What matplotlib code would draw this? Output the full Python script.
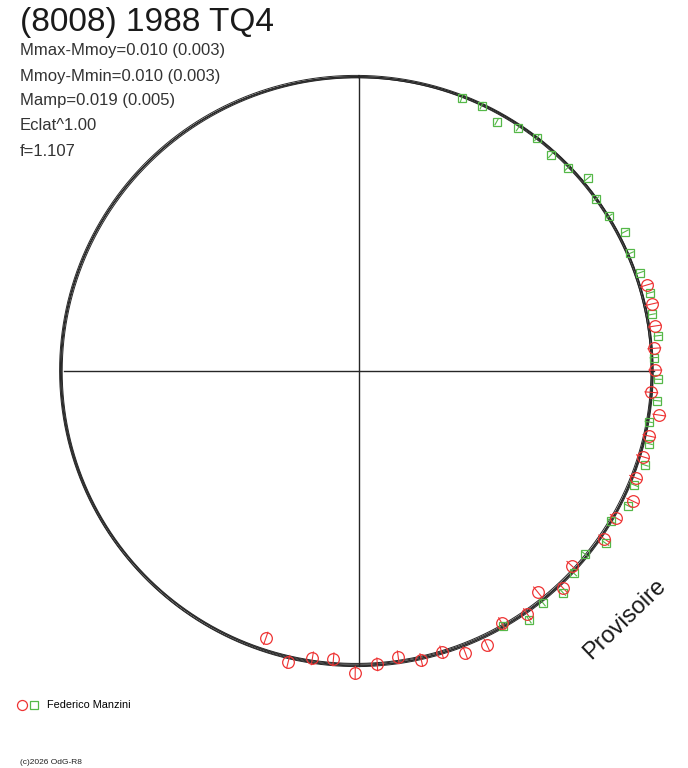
import numpy as np
import matplotlib
matplotlib.use("Agg")
import matplotlib.pyplot as plt
from matplotlib.lines import Line2D
from matplotlib.legend_handler import HandlerTuple

plt.rcParams['font.family'] = ['Liberation Sans', 'DejaVu Sans']

# ---------------- data ----------------
title = "(8008) 1988 TQ4"
stats_lines = ["Mmax-Mmoy=0.010 (0.003)", "Mmoy-Mmin=0.010 (0.003)",
               "Mamp=0.019 (0.005)", "Eclat^1.00", "f=1.107"]
observer = "Federico Manzini"

# green squares: phase and residual (mag, outward positive)
green_phase = [0.0573, 0.0689, 0.0803, 0.0923, 0.1037, 0.1156, 0.1271, 0.1386,
               0.1500, 0.1617, 0.1732, 0.1848, 0.1964, 0.2082, 0.2196, 0.2313,
               0.2428, 0.2544, 0.2658, 0.2777, 0.2891, 0.3006, 0.3125, 0.3239,
               0.3354, 0.3470, 0.3584, 0.3702, 0.3816, 0.3933, 0.4046, 0.4180]
green_resid = [-0.018, -0.0135, -0.051, -0.021, -0.0075, -0.029, -0.018, 0.0205,
               -0.012, -0.004, 0.0265, 0.0025, 0.0135, 0.033, 0.0155, 0.029,
               0.0, 0.019, 0.021, -0.004, 0.0185, 0.029, 0.015, 0.029,
               -0.0075, 0.0295, -0.020, 0.001, 0.0315, 0.0055, 0.0325, -0.0115]

# red circles
red_phase = [0.2038, 0.2142, 0.2260, 0.2378, 0.2495, 0.2616, 0.2732, 0.2851,
             0.2967, 0.3086, 0.3206, 0.3326, 0.3455, 0.3680, 0.3799, 0.3918,
             0.4036, 0.4180, 0.4305, 0.4426, 0.4545, 0.4662, 0.4783, 0.4901,
             0.5020, 0.5141, 0.5256, 0.5380, 0.5534]
red_resid = [0.0265, 0.0265, 0.0205, 0.006, 0.0065, -0.0095, 0.0425, 0.0125,
             0.007, 0.008, 0.040, 0.0045, 0.0095, -0.033, 0.0165, -0.054,
             0.003, -0.025, 0.0385, 0.032, -0.009, 0.003, -0.030, -0.0055,
             0.0335, -0.028, -0.0195, 0.021, -0.0595]

# fitted Fourier curves (bundle)
fit_c0 = [-0.007, -0.003, -0.001, 0.002, 0.006]
fit_a1 = [0.002, -0.002, 0.003, -0.001, 0.000]
fit_b1 = [-0.012, -0.013, -0.0125, -0.012, -0.013]
fit_a2 = [-0.004, -0.003, -0.005, -0.004, -0.003]
fit_b2 = [0.002, -0.002, 0.000, 0.001, -0.001]

# ---------------- geometry ----------------
R0 = 295.0      # radius of mean circle (plot units = px)
K = 200.0       # plot units per magnitude
err_red = 0.032
err_green = 0.018

RED = '#ee3333'
GREEN = '#55b848'
DARK = '#262626'


def polar_xy(phase, resid):
    th = 2 * np.pi * np.asarray(phase)
    r = R0 + K * np.asarray(resid)
    return r * np.sin(th), r * np.cos(th)


fig = plt.figure(figsize=(6.88, 7.68), dpi=100)
ax = fig.add_axes([0, 0, 1, 1])
ax.set_xlim(-359, 329)
ax.set_ylim(-397, 371)
ax.set_aspect('equal')
ax.axis('off')

# axes cross
ax.plot([-R0, R0], [0, 0], color=DARK, lw=1.0, zorder=1)
ax.plot([0, 0], [-R0, R0], color=DARK, lw=1.0, zorder=1)

# fitted curves
th = np.linspace(0, 2 * np.pi, 721)
for c0, a1, b1, a2, b2 in zip(fit_c0, fit_a1, fit_b1, fit_a2, fit_b2):
    m = c0 + a1 * np.cos(th) + b1 * np.sin(th) + a2 * np.cos(2 * th) + b2 * np.sin(2 * th)
    r = R0 + K * m
    ax.plot(r * np.sin(th), r * np.cos(th), color=DARK, lw=0.7, zorder=2)


def draw_series(phase, resid, err, color, marker, ms):
    x, y = polar_xy(phase, resid)
    x1, y1 = polar_xy(phase, np.asarray(resid) - err)
    x2, y2 = polar_xy(phase, np.asarray(resid) + err)
    for a, b, c, d in zip(x1, y1, x2, y2):
        ax.plot([a, c], [b, d], color=color, lw=0.8, zorder=3)
    ax.plot(x, y, linestyle='none', marker=marker, ms=ms, mfc='none',
            mec=color, mew=0.9, zorder=4)


draw_series(green_phase, green_resid, err_green, GREEN, 's', 6.2)
draw_series(red_phase, red_resid, err_red, RED, 'o', 8.4)

# ---------------- texts ----------------
W, H = 688.0, 768.0
fig.text(20 / W, 1 - 22 / H, title, fontsize=24, va='center', ha='left', color='#1a1a1a')
for i, s in enumerate(stats_lines):
    fig.text(20 / W, 1 - (51 + 25 * i) / H, s, fontsize=12, va='center', ha='left',
             color='#333333')

fig.text(625 / W, 1 - 619 / H, "Provisoire", fontsize=17, rotation=44,
         ha='center', va='center', color='#1a1a1a', rotation_mode='anchor')

h_red = Line2D([], [], linestyle='none', marker='o', ms=7.2, mfc='none', mec=RED, mew=0.9)
h_green = Line2D([], [], linestyle='none', marker='s', ms=5.2, mfc='none', mec=GREEN, mew=0.9)
leg = ax.legend([(h_red, h_green)], [observer],
                handler_map={tuple: HandlerTuple(ndivide=None, pad=0.2)},
                loc='center left', bbox_to_anchor=(17 / W, 1 - 705.5 / H),
                bbox_transform=fig.transFigure, frameon=False, fontsize=7.8,
                handlelength=2.0, handletextpad=0.8, borderpad=0, borderaxespad=0)

fig.text(20 / W, 1 - 763 / H, "(c)2026 OdG-R8", fontsize=6, va='center', ha='left',
         color='#222222')

fig.savefig("out.png", dpi=100)
